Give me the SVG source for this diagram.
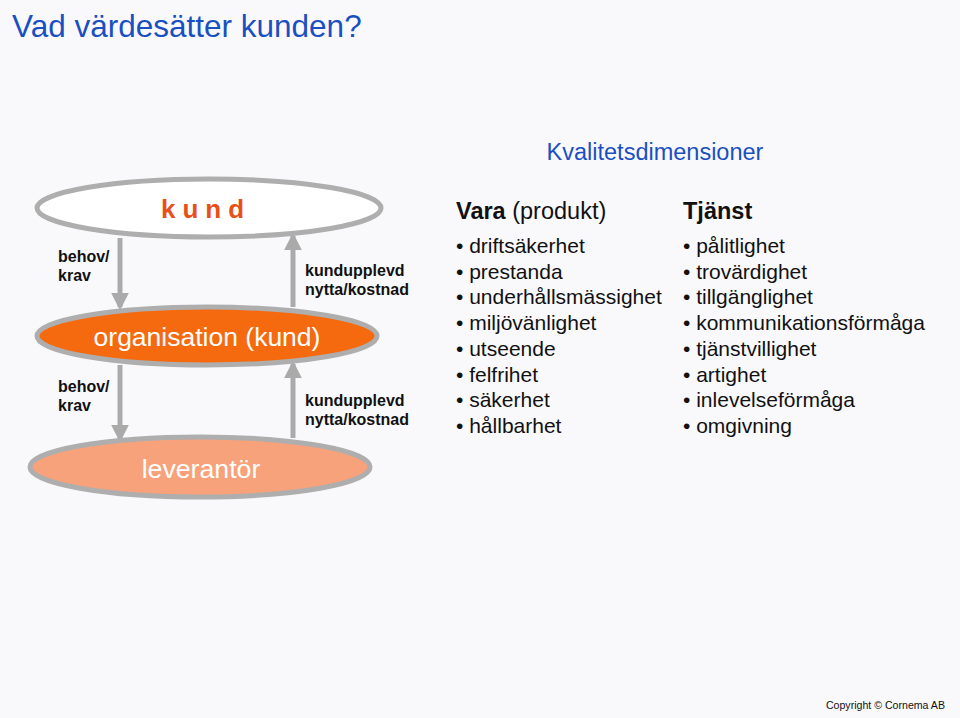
<svg xmlns="http://www.w3.org/2000/svg" width="960" height="718" viewBox="0 0 960 718">
<defs>
<marker id="ah" viewBox="0 0 10 10" refX="8" refY="5" markerWidth="3.6" markerHeight="3.6" orient="auto" markerUnits="strokeWidth">
<path d="M0,0 L10,5 L0,10 Z" fill="#aaaaaa"/>
</marker>
</defs>
<style>
text{font-family:"Liberation Sans",Arial,Helvetica,sans-serif}
.ell{stroke:#aeaeae;stroke-width:5}
.lbl{font-size:16px;font-weight:bold;fill:#111}
.li{font-size:21px;fill:#111}
.hd{font-size:23.5px;fill:#111}
.blue{fill:#1a4fc2}
.conn{stroke:#aaaaaa;stroke-width:5;fill:none;marker-end:url(#ah)}
</style>
<rect width="960" height="718" fill="#f9f9fc"/>
<text x="12" y="37" class="blue" font-size="31.5">Vad värdesätter kunden?</text>
<text x="655" y="160" class="blue" font-size="23.5" text-anchor="middle">Kvalitetsdimensioner</text>
<g id="connectors">
<line class="conn" x1="120" y1="238" x2="120" y2="307"/>
<line class="conn" x1="293" y1="307" x2="293" y2="236"/>
<line class="conn" x1="120" y1="365" x2="120" y2="439"/>
<line class="conn" x1="293" y1="438" x2="293" y2="364"/>
</g>
<g id="kund">
<ellipse class="ell" cx="209" cy="208" rx="172" ry="29" fill="#ffffff"/>
<text x="206" y="218" font-size="26" font-weight="bold" fill="#e8501a" text-anchor="middle" letter-spacing="7">kund</text>
</g>
<g id="organisation">
<ellipse class="ell" cx="207" cy="336" rx="170" ry="29" fill="#f5690f"/>
<text x="207" y="346" font-size="26.5" fill="#ffffff" text-anchor="middle">organisation (kund)</text>
</g>
<g id="leverantor">
<ellipse class="ell" cx="200" cy="467" rx="170" ry="30" fill="#f7a27a"/>
<text x="201" y="478" font-size="26.7" fill="#ffffff" text-anchor="middle">leverantör</text>
</g>
<g id="labels">
<text class="lbl" x="58" y="262">behov/</text>
<text class="lbl" x="58" y="281">krav</text>
<text class="lbl" x="58" y="392">behov/</text>
<text class="lbl" x="58" y="411">krav</text>
<text class="lbl" x="305" y="276">kundupplevd</text>
<text class="lbl" x="305" y="295">nytta/kostnad</text>
<text class="lbl" x="305" y="406">kundupplevd</text>
<text class="lbl" x="305" y="425">nytta/kostnad</text>
</g>
<g id="vara">
<text class="hd" x="456" y="219"><tspan font-weight="bold">Vara</tspan> (produkt)</text>
<text class="li" x="456" y="253">• driftsäkerhet</text>
<text class="li" x="456" y="279">• prestanda</text>
<text class="li" x="456" y="304">• underhållsmässighet</text>
<text class="li" x="456" y="330">• miljövänlighet</text>
<text class="li" x="456" y="356">• utseende</text>
<text class="li" x="456" y="382">• felfrihet</text>
<text class="li" x="456" y="407">• säkerhet</text>
<text class="li" x="456" y="433">• hållbarhet</text>
</g>
<g id="tjanst">
<text class="hd" x="683" y="219" font-weight="bold">Tjänst</text>
<text class="li" x="683" y="253">• pålitlighet</text>
<text class="li" x="683" y="279">• trovärdighet</text>
<text class="li" x="683" y="304">• tillgänglighet</text>
<text class="li" x="683" y="330">• kommunikationsförmåga</text>
<text class="li" x="683" y="356">• tjänstvillighet</text>
<text class="li" x="683" y="382">• artighet</text>
<text class="li" x="683" y="407">• inlevelseförmåga</text>
<text class="li" x="683" y="433">• omgivning</text>
</g>
<text x="945" y="709" font-size="10.6" fill="#111" text-anchor="end">Copyright © Cornema AB</text>
</svg>
